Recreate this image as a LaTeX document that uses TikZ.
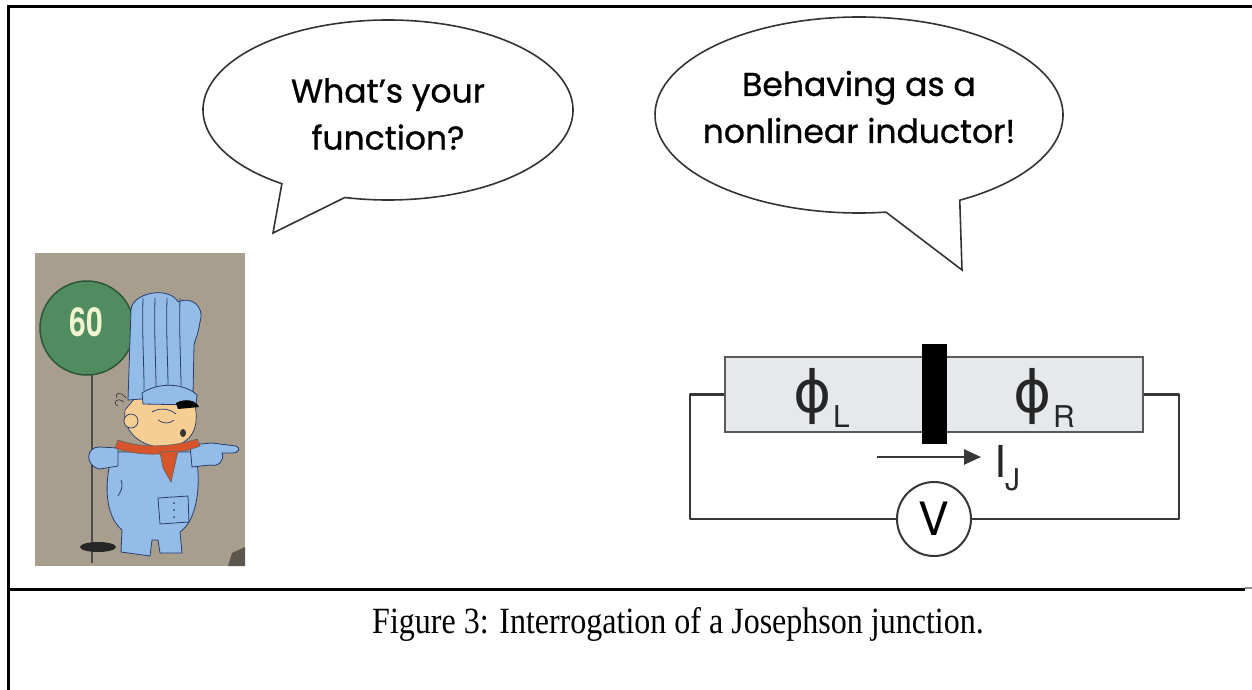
\documentclass[tikz,border=0pt]{standalone}
\usepackage{fontspec}
\setmainfont{Liberation Serif}
\newfontfamily\comicfont[FakeBold=0.8]{Poppins}
\newfontfamily\circfont{TeX Gyre Heros}
\newfontfamily\greekfont{DejaVu Sans}
\usetikzlibrary{arrows.meta,calc,positioning,shapes.geometric}

\definecolor{wallbg}{RGB}{168,158,141}
\definecolor{signgreen}{RGB}{80,140,95}
\definecolor{signdark}{RGB}{45,85,55}
\definecolor{signtext}{RGB}{238,245,208}
\definecolor{suitblue}{RGB}{147,189,232}
\definecolor{suitline}{RGB}{40,60,110}
\definecolor{skin}{RGB}{246,205,147}
\definecolor{scarfred}{RGB}{216,84,42}
\definecolor{barfill}{RGB}{229,233,236}
\definecolor{wiregray}{RGB}{55,55,55}

\tikzset{
  frameline/.style={line width=3pt,black},
  bubble/.style={draw=black!80,line width=1.6pt},
  saytext/.style={align=center,inner sep=0pt,font=\comicfont\fontsize{33}{47}\selectfont},
  suit/.style={draw=suitline,line width=0.8pt,fill=suitblue,line join=round},
  jbox/.style={draw=black!65,fill=barfill,line width=1.8pt,minimum width=418pt,minimum height=75pt,inner sep=0pt},
  barrier/.style={fill=black,minimum width=25pt,minimum height=100pt,inner sep=0pt},
  wire/.style={draw=wiregray,line width=2.6pt,line join=round},
  volt/.style={circle,draw=wiregray,line width=2pt,fill=white,minimum size=74pt,inner sep=0pt,font=\circfont\fontsize{46}{46}\selectfont},
  phase/.style={inner sep=0pt,text=black!85,font=\greekfont\fontsize{58}{58}\selectfont},
  sublabel/.style={inner sep=0pt,anchor=base west,text=black!85,font=\circfont\fontsize{30}{30}\selectfont},
  current/.style={wiregray,line width=2.6pt,-{Triangle[length=17pt,width=15pt]}}
}

\begin{document}
\begin{tikzpicture}[x=1pt,y=-1pt]
\useasboundingbox (0,0) rectangle (1252,690);

% frame and caption rule
\draw[frameline] (1252,7) -- (8,7) -- (8,690);
\draw[frameline] (8,589) -- (1245,589);
\draw[black!45,line width=2pt] (1245,588) -- (1252,588);

% speech bubbles
\node[saytext] (ask) at (388,114) {What’s your\\function?};
\coordinate (askTip) at (273,233);
\draw[bubble] ([shift={(125:185 and 90)}]388,110)
  arc[start angle=125,end angle=463.5,x radius=185,y radius=90] -- (askTip) -- cycle;

\node[saytext] (reply) at (859,107) {Behaving as a\\nonlinear inductor!};
\coordinate (replyTip) at (962,270);
\draw[bubble] ([shift={(82.4:204 and 98)}]859,115)
  arc[start angle=82.4,end angle=420.4,x radius=204,y radius=98] -- (replyTip) -- cycle;

% the little conductor
\fill[wallbg] (35,253) rectangle (245,566);
\fill[wallbg!55!black] (228,566) -- (232,553) -- (245,547) -- (245,566) -- cycle;
\draw[black!70,line width=1.2pt] (92,372) -- (92,563);
\fill[black!85] (98,547) ellipse[x radius=18,y radius=5];
\draw[signdark,fill=signgreen,line width=1.5pt] (87,328) circle[radius=47];
\node[text=signtext,inner sep=0pt,font=\circfont\bfseries\fontsize{40}{40}\selectfont] (sign) at (86,322) {\scalebox{0.75}[1]{60}};

\draw[suit] (113,452) .. controls (104,480) and (104,515) .. (122,530) -- (121,552) -- (150,556)
  -- (152,540) -- (158,540) -- (160,553) -- (182,553) -- (180,532)
  .. controls (198,520) and (202,480) .. (195,452) -- cycle;
\draw[suit] (118,448) -- (100,447) .. controls (86,446) and (84,466) .. (100,469) -- (118,466) -- cycle;
\draw[suit] (190,445) -- (212,443) -- (236,446) .. controls (241,448) and (239,453) .. (232,453)
  -- (222,453) .. controls (225,461) and (218,467) .. (210,465) -- (192,467) -- cycle;
\draw[suitline,line width=0.8pt] (158,498) -- (188,496) -- (189,522) -- (160,524) -- cycle;
\foreach \by in {503,510,517}
  \fill[suitline] (174,\by) circle[radius=1];
\draw[suitline,line width=0.8pt] (121,480) .. controls (124,488) and (120,492) .. (118,496);

\draw[suitline,line width=0.7pt,fill=skin] (125,410) .. controls (122,430) and (140,448) .. (165,447)
  .. controls (190,446) and (200,430) .. (195,405) -- (135,398) -- cycle;
\draw[suitline,line width=0.7pt,fill=skin] (131,421) circle[radius=7];
\draw[suitline,line width=0.7pt] (152,412) .. controls (160,407) and (170,409) .. (176,414);
\draw[suitline,line width=0.7pt] (158,420) .. controls (163,424) and (170,424) .. (174,420);
\fill[black!80] (183,433) ellipse[x radius=3,y radius=4];
\draw[black!75,line width=0.7pt] (124,402) .. controls (116,396) and (112,404) .. (118,406)
  (126,398) .. controls (120,390) and (114,394) .. (117,398);

\draw[line width=0.7pt,draw=black!60,fill=scarfred] (115,448) .. controls (140,457) and (175,456) .. (200,446)
  -- (197,439) .. controls (170,448) and (140,448) .. (118,440) -- cycle;
\draw[line width=0.7pt,draw=black!60,fill=scarfred] (160,452) -- (178,451) -- (171,482) -- (163,468) -- cycle;

\draw[suit] (128,400) -- (131,310) .. controls (132,292) and (170,286) .. (178,302)
  .. controls (190,296) and (205,305) .. (200,322) .. controls (198,335) and (195,340) .. (194,345)
  -- (193,395) -- cycle;
\foreach \sx in {143,155,167,180}
  \draw[suitline,line width=0.8pt] (\sx,298) .. controls (\sx-1,340) and (\sx+1,360) .. (\sx+1,390);
\draw[suit] (142,393) .. controls (160,381) and (186,384) .. (197,395) -- (196,405) -- (143,404) -- cycle;
\fill[black] (176,403) .. controls (185,398) and (196,400) .. (199,407) -- (178,409) -- cycle;

% junction circuit
\node[jbox] (jbox) at (934,394.5) {};
\node[barrier] (barrier) at (934.5,394) {};
\node[volt] (volt) at (934,519) {V};
\draw[wire] (jbox.west) -- ++(-34,0) |- (volt.west);
\draw[wire] (jbox.east) -- ++(35,0) |- (volt.east);

\node[phase] (phiL) at (813,396) {ϕ};
\node[sublabel] (subL) at (833,427) {L};
\node[phase] (phiR) at (1033,396) {ϕ};
\node[sublabel] (subR) at (1053,427) {R};

\coordinate (ijFrom) at (877,457);
\coordinate (ijTo) at (981,457);
\draw[current] (ijFrom) -- (ijTo);
\node[inner sep=0pt,anchor=base west,text=black!85,font=\circfont\fontsize{44}{44}\selectfont] (ij) at (994,477) {I};
\node[sublabel] (ijsub) at (1005,490) {J};

\node[anchor=base,inner sep=0pt,font=\fontsize{37}{37}\selectfont] (caption) at (678,633)
  {\scalebox{0.865}[1]{Figure 3: Interrogation of a Josephson junction.}};
\end{tikzpicture}
\end{document}
